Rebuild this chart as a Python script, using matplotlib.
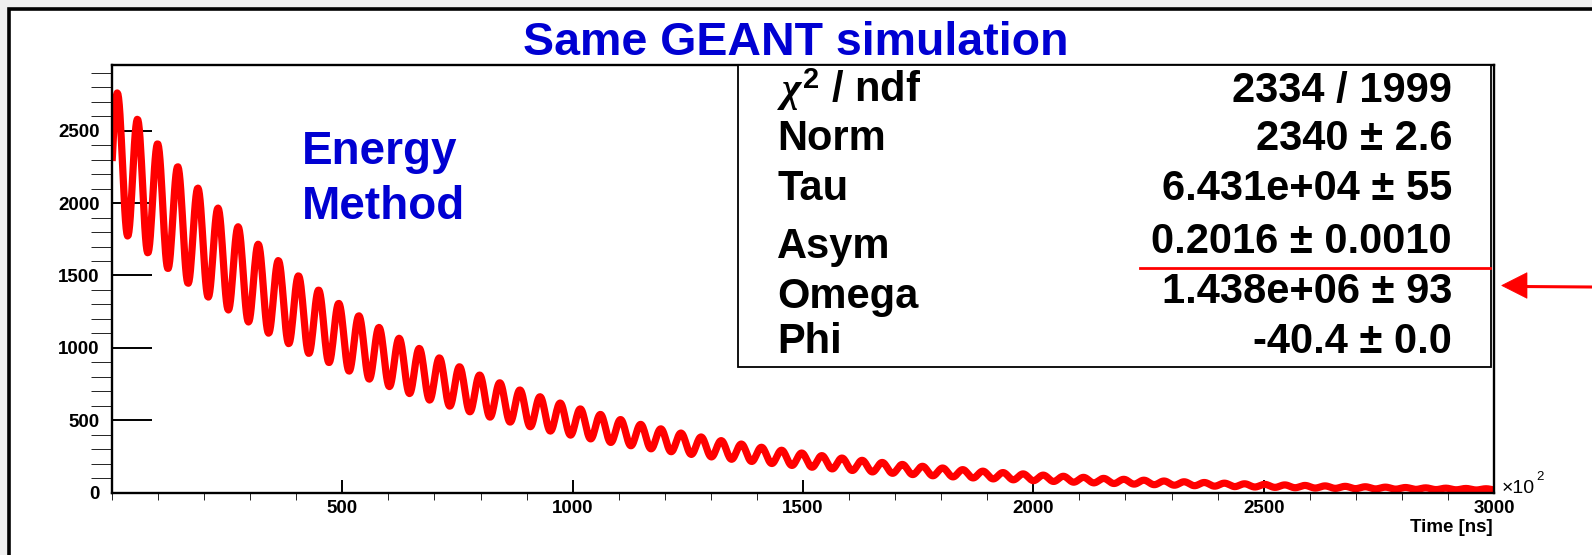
import numpy as np
import matplotlib
matplotlib.use('Agg')
import matplotlib.pyplot as plt
from matplotlib.patches import Rectangle, Polygon
from matplotlib.lines import Line2D
from matplotlib.ticker import MultipleLocator

# fit result, as printed in the stats box
norm = 2340.0
tau_ns = 6.431e4
asym = 0.2016
omega = 1.438e6          # rad/s
first_peak_ns = 1200.0   # time of the first maximum

n_bins = 2000
x_lo, x_hi = 0, 3000     # axis in units of 100 ns

stat_labels = [r'$\chi^{\mathbf{2}}$ / ndf', 'Norm', 'Tau', 'Asym', 'Omega', 'Phi']
stat_values = ['2334 / 1999', '2340 \u00b1 2.6', '6.431e+04 \u00b1 55',
               '0.2016 \u00b1 0.0010', '1.438e+06 \u00b1 93', '-40.4 \u00b1 0.0']

xticks = [500, 1000, 1500, 2000, 2500, 3000]
yticks = [0, 500, 1000, 1500, 2000, 2500]

plt.rcParams['font.family'] = ['Liberation Sans', 'DejaVu Sans']
plt.rcParams['font.weight'] = 'bold'
plt.rcParams['mathtext.fontset'] = 'custom'
plt.rcParams['mathtext.it'] = 'Liberation Serif:italic'
plt.rcParams['mathtext.bf'] = 'Liberation Sans:bold'
plt.rcParams['mathtext.rm'] = 'Liberation Sans:bold'

W, H = 1592, 555
BLUE = '#0000d2'


def px(x, y):
    return x / W, 1 - y / H


fig = plt.figure(figsize=(W / 100, H / 100), dpi=100, facecolor='#efefef')

# canvas frame
canvas = Rectangle(px(8.5, 600), 2, (600 - 8.5) / H, transform=fig.transFigure,
                   facecolor='white', edgecolor='black', lw=2.6, zorder=-1)
fig.patches.append(canvas)

left, right, top, bottom = 112, 1494, 65.5, 492.7
ax = fig.add_axes([left / W, 1 - bottom / H, (right - left) / W, (bottom - top) / H])
ax.set_facecolor('white')

# fitted wiggle
x = x_lo + (np.arange(n_bins) + 0.5) * (x_hi - x_lo) / n_bins
t = x * 100.0
y = norm * np.exp(-t / tau_ns) * (1 + asym * np.cos(omega * 1e-9 * (t - first_peak_ns)))
ax.plot(x, y, color='red', lw=5.2, zorder=3)

ax.set_xlim(x_lo, x_hi)
ax.set_ylim(0, 2950)
ax.set_xticks(xticks)
ax.set_yticks(yticks)
ax.xaxis.set_minor_locator(MultipleLocator(100))
ax.yaxis.set_minor_locator(MultipleLocator(100))
for s in ax.spines.values():
    s.set_linewidth(1.7)
    s.set_zorder(4)
ax.tick_params(direction='in', width=1.4, labelsize=13.5, top=False, right=False)
ax.tick_params(axis='x', which='major', length=9.5, pad=5)
ax.tick_params(axis='x', which='minor', length=4.8)
ax.tick_params(axis='y', which='major', length=29, pad=9)
ax.tick_params(axis='y', which='minor', length=15)
for lab in ax.get_xticklabels() + ax.get_yticklabels():
    lab.set_fontweight('bold')

fig.text(*px(1493, 532), 'Time [ns]', ha='right', va='baseline', fontsize=13.5, fontweight='bold')
fig.text(*px(1502, 493), '\u00d710', ha='left', va='baseline', fontsize=14, fontweight='normal')
fig.text(*px(1536, 480), '2', ha='left', va='baseline', fontsize=9.5, fontweight='normal')

# titles
fig.text(*px(796, 55), 'Same GEANT simulation', ha='center', va='baseline',
         fontsize=33.5, fontweight='bold', color=BLUE)
fig.text(*px(302, 164), 'Energy', ha='left', va='baseline', fontsize=33, fontweight='bold', color=BLUE)
fig.text(*px(302, 219), 'Method', ha='left', va='baseline', fontsize=33, fontweight='bold', color=BLUE)

# stats box
bx0, by0, bx1, by1 = 738, 65, 1491, 367
box = Rectangle(px(bx0, by1), (bx1 - bx0) / W, (by1 - by0) / H, transform=fig.transFigure,
                facecolor='white', edgecolor='black', lw=1.3, zorder=5)
fig.patches.append(box)
label_base = [101.7, 150, 200, 258.3, 308.3, 353.3]
value_base = [101.7, 150, 200, 253.3, 303.3, 353.3]
for lab, val, yl, yv in zip(stat_labels, stat_values, label_base, value_base):
    fig.text(*px(777, yl), lab, ha='left', va='baseline', fontsize=30, fontweight='bold', zorder=6)
    fig.text(*px(1452, yv), val, ha='right', va='baseline', fontsize=30, fontweight='bold', zorder=6)

# red underline and arrow
fig.lines.append(Line2D([1140 / W, 1490 / W], [1 - 268.3 / H] * 2, transform=fig.transFigure,
                        color='red', lw=2.0, zorder=7))
fig.lines.append(Line2D([1520 / W, 1.0], [1 - 286.5 / H, 1 - 287 / H], transform=fig.transFigure,
                        color='red', lw=2.2, zorder=7))
head = Polygon([px(1501.7, 285.5), px(1527, 272.7), px(1527, 298.3)], closed=True,
               transform=fig.transFigure, facecolor='red', edgecolor='red', lw=0.5, zorder=7)
fig.patches.append(head)

fig.savefig('out.png', dpi=100, facecolor=fig.get_facecolor())
